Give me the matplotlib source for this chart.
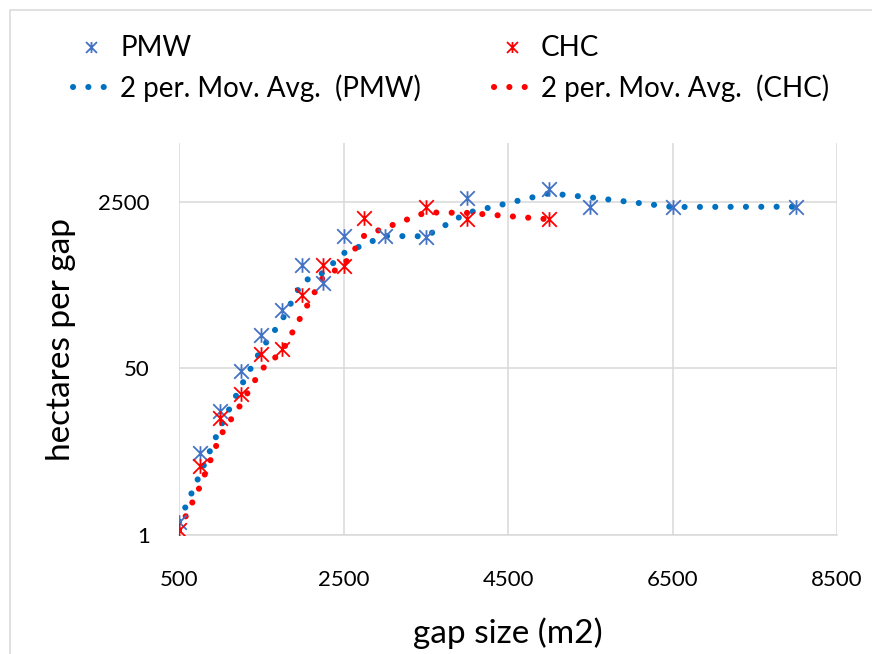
#!/usr/bin/python3
# -*- coding: utf_8 -*-

"""
Gap size against hectares per gap for the PMW and CHC sites,
each with a 2 period moving average, on a base 50 log axis.
"""

import numpy as np
import pandas as pd
import matplotlib
matplotlib.use('Agg')
import matplotlib.pyplot as plt
from matplotlib.path import Path
from matplotlib.patches import Rectangle

# gap size (m2) and hectares per gap
pmw_x = [500, 750, 1000, 1250, 1500, 1750, 2000, 2250, 2500, 3000, 3500,
         4000, 5000, 5500, 6500, 8000]
pmw_y = [1.37, 6.8, 18.4, 47, 110, 200, 570, 376, 1125, 1125, 1110,
         2760, 3370, 2210, 2240, 2240]

chc_x = [500, 750, 1000, 1250, 1500, 1750, 2000, 2250, 2500, 2750, 3500,
         4000, 5000]
chc_y = [1.12, 5.0, 15.5, 27.3, 70, 78.5, 281, 570, 556, 1705, 2210,
         1665, 1665]

x_ticks = [500, 2500, 4500, 6500, 8500]
y_ticks = [1, 50, 2500]

blue_star = '#4472C4'
blue_avg = '#0070C0'
red = '#FF0000'
grid_grey = '#D9D9D9'


def starmarker():
    """
    An X with a vertical bar through it, like the spreadsheet star marker
    """
    verts = [(-1, -1), (1, 1), (-1, 1), (1, -1), (0, -1), (0, 1)]
    codes = [Path.MOVETO, Path.LINETO] * 3
    return Path(verts, codes)


def movavg(values, period=2):
    """
    Moving average over the given period, in the order the points are plotted

    :param values: list of y values
    :param period: number of points in each window
    :return: numpy array of averaged values
    """
    return pd.Series(values).rolling(period, min_periods=1).mean().values


def main():
    plt.rcParams['font.family'] = ['Lato', 'DejaVu Sans']

    fig = plt.figure(figsize=(8.72, 6.54), dpi=100)
    ax = fig.add_axes([0.2053, 0.182, 0.7546, 0.5993])

    # thin grey chart border
    fig.patches.append(Rectangle((10 / 872, -0.1), 1.2, 1 - 10 / 654 + 0.1,
                                 transform=fig.transFigure, fill=False,
                                 edgecolor=grid_grey, linewidth=1.1))

    star = starmarker()
    dots = dict(linestyle=(0, (0.01, 2.5)), linewidth=4.4,
                dash_capstyle='round', solid_capstyle='round')

    h1, = ax.plot(pmw_x, pmw_y, linestyle='none', marker=star,
                  markersize=10.5, markeredgewidth=1.3,
                  markeredgecolor=blue_star, color=blue_star, label='PMW',
                  zorder=3)
    h3, = ax.plot(chc_x, chc_y, linestyle='none', marker=star,
                  markersize=10.5, markeredgewidth=1.3,
                  markeredgecolor=red, color=red, label='CHC', zorder=3)
    h2, = ax.plot(pmw_x, movavg(pmw_y), color=blue_avg,
                  label='2 per. Mov. Avg.  (PMW)', zorder=2, **dots)
    h4, = ax.plot(chc_x, movavg(chc_y), color=red,
                  label='2 per. Mov. Avg.  (CHC)', zorder=2, **dots)

    ax.set_yscale('log', base=50)
    ax.set_xlim(500, 8500)
    ax.set_ylim(1, 10000)
    ax.set_xticks(x_ticks)
    ax.set_xticklabels([str(t) for t in x_ticks])
    ax.set_yticks(y_ticks)
    ax.set_yticklabels([str(t) for t in y_ticks])
    ax.minorticks_off()
    ax.tick_params(axis='both', length=0, labelsize=16)
    ax.tick_params(axis='x', pad=25)
    ax.tick_params(axis='y', pad=21)

    ax.grid(True, color=grid_grey, linewidth=1.1)
    ax.set_axisbelow(True)
    for side in ['top', 'right', 'left']:
        ax.spines[side].set_visible(False)
    ax.spines['bottom'].set_color(grid_grey)
    ax.spines['bottom'].set_linewidth(1.1)

    ax.set_xlabel('gap size (m2)', fontsize=24, labelpad=20)
    ax.set_ylabel('hectares per gap', fontsize=24, labelpad=16)

    fig.legend([h1, h2, h3, h4],
               [h.get_label() for h in [h1, h2, h3, h4]],
               loc='upper left', bbox_to_anchor=(0.068, 0.967), ncol=2,
               frameon=False, fontsize=20, borderpad=0, markerscale=0.75,
               handlelength=1.3, handletextpad=0.4, columnspacing=2.6,
               labelspacing=0.45)

    fig.savefig('out.png', dpi=100)


if __name__ == '__main__':
    main()
